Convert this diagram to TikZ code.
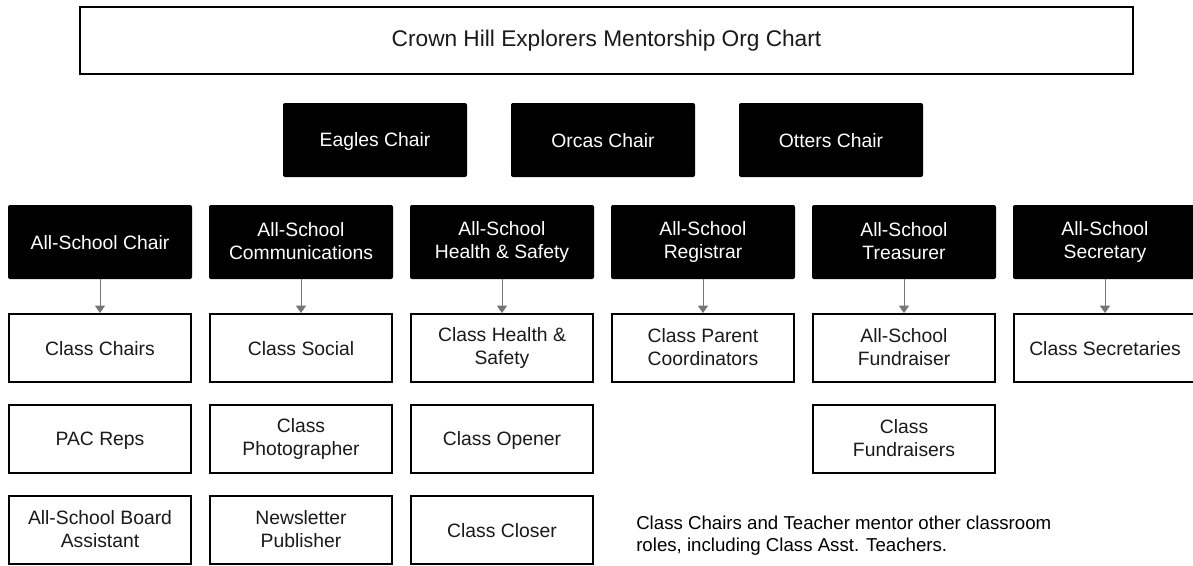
\documentclass[tikz,border=0pt]{standalone}
\usepackage{fontspec}
\setmainfont{Liberation Sans}
\usetikzlibrary{arrows.meta}
\definecolor{arrowgray}{HTML}{757575}
\definecolor{txtdark}{HTML}{1A1A1A}
\newcommand\bxstrut{\rule[-1.6pt]{0pt}{14.6pt}}
\begin{document}
\begin{tikzpicture}[x=0.75pt,y=-0.75pt,
  boxfont/.style={font=\fontsize{14.5}{17.25}\selectfont,
    execute at begin node=\bxstrut, execute at end node=\bxstrut},
  blk/.style={boxfont, fill=black, text=white, rounded corners=1.5pt,
    minimum width=138pt, minimum height=55.5pt, align=center, inner sep=0pt},
  wht/.style={boxfont, draw=black, line width=1.5pt, fill=white, text=txtdark,
    minimum width=136pt, minimum height=51pt, align=center, inner sep=0pt},
  conn/.style={draw=arrowgray, line width=0.75pt,
    -{Triangle[width=7.5pt,length=5.5pt]}}]
\useasboundingbox (0,0) rectangle (1193,565);
\fill[white] (0,0) rectangle (1193,565);

% title
\node[wht, font=\fontsize{17}{20}\selectfont, minimum width=789.75pt,
  minimum height=50.25pt] (title) at (606.5,40)
  {Crown Hill Explorers Mentorship Org Chart};

% chairs
\node[blk] (eagles) at (375,140) {Eagles Chair};
\node[blk] (orcas)  at (603,140) {Orcas Chair};
\node[blk] (otters) at (831,140) {Otters Chair};

% all-school row
\node[blk] (chair)  at (100,242)  {All-School Chair};
\node[blk] (comm)   at (301,242)  {All-School\\Communications};
\node[blk] (health) at (502,242)  {All-School\\Health \& Safety};
\node[blk] (reg)    at (703,242)  {All-School\\Registrar};
\node[blk] (treas)  at (904,242)  {All-School\\Treasurer};
\node[blk] (sec)    at (1105,242) {All-School\\Secretary};

% class row 1
\node[wht] (cchairs) at (100,348)  {Class Chairs};
\node[wht] (csocial) at (301,348)  {Class Social};
\node[wht] (chealth) at (502,348)  {Class Health \&\\Safety};
\node[wht] (cparent) at (703,348)  {Class Parent\\Coordinators};
\node[wht] (fundr)   at (904,348)  {All-School\\Fundraiser};
\node[wht] (csec)    at (1105,348) {Class Secretaries};

% class row 2
\node[wht] (pac)    at (100,439) {PAC Reps};
\node[wht] (photo)  at (301,439) {Class\\Photographer};
\node[wht] (opener) at (502,439) {Class Opener};
\node[wht] (cfund)  at (904,439) {Class\\Fundraisers};

% class row 3
\node[wht] (board)  at (100,530) {All-School Board\\Assistant};
\node[wht] (news)   at (301,530) {Newsletter\\Publisher};
\node[wht] (closer) at (502,530) {Class Closer};

% note
\node[anchor=west, align=left, inner sep=0pt, text=black,
  font=\fontsize{14}{16.5}\selectfont] (note) at (636,536)
  {Class Chairs and Teacher mentor other classroom\\roles, including Class Asst. Teachers.};

% connectors
\draw[conn] (chair)  -- (cchairs);
\draw[conn] (comm)   -- (csocial);
\draw[conn] (health) -- (chealth);
\draw[conn] (reg)    -- (cparent);
\draw[conn] (treas)  -- (fundr);
\draw[conn] (sec)    -- (csec);
\end{tikzpicture}
\end{document}
